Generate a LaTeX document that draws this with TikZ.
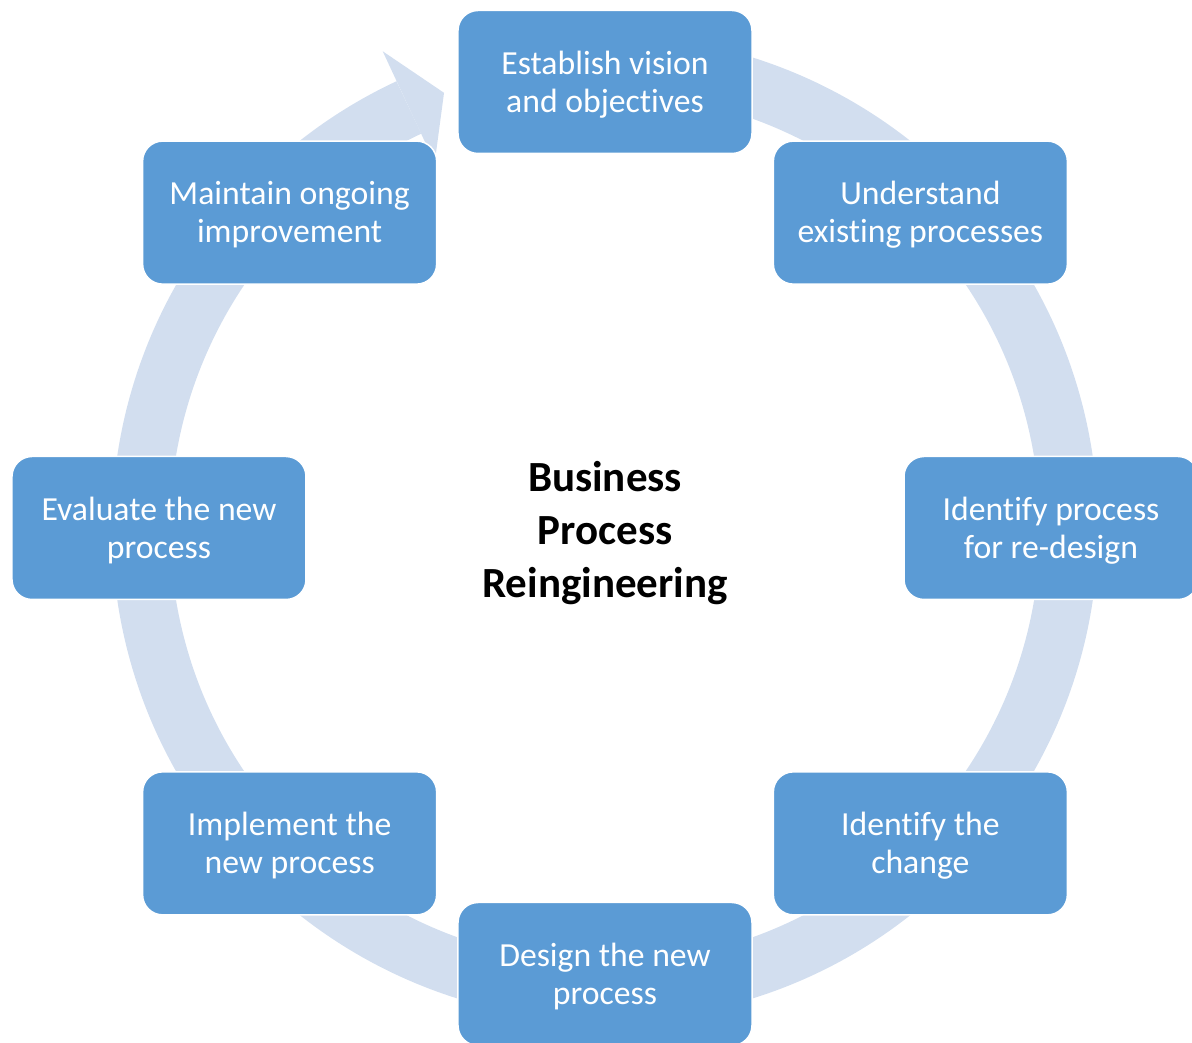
\documentclass[tikz,border=0pt]{standalone}
\usepackage{fontspec}
\setmainfont{Carlito}[Ligatures=CommonOff]
\usepackage{tikz}
\usetikzlibrary{positioning}
\definecolor{boxblue}{RGB}{91,155,213}
\definecolor{ringblue}{RGB}{210,222,239}
\newcommand{\boxstrut}{\rule{0pt}{28pt}}

\begin{document}
\begin{tikzpicture}[x=1pt, y=1pt,
    stepbox/.style={draw=white, line width=1.5pt, fill=boxblue, rounded corners=20pt,
      minimum width=294pt, minimum height=143pt, inner sep=0pt, align=center,
      text=white, font=\fontsize{33.7}{38}\selectfont}]
  \useasboundingbox (-605,-515) rectangle (587,528);

  % Cycle arrow
  \draw[ringblue, line width=58pt] (100:464) arc[start angle=100, end angle=-245, radius=464];
  \fill[ringblue] (115:403) -- (115:526) -- (110.3:464) -- cycle;

  % Step nodes
  \node[stepbox] (vision) at (90:446) {\boxstrut Establish vision\\and objectives};
  \node[stepbox] (understand) at (45:446) {\boxstrut Understand\\existing processes};
  \node[stepbox] (identify) at (0:446) {\boxstrut Identify process\\for re-design};
  \node[stepbox] (change) at (-45:446) {\boxstrut Identify the\\change};
  \node[stepbox] (design) at (-90:446) {\boxstrut Design the new\\process};
  \node[stepbox] (implement) at (-135:446) {\boxstrut Implement the\\new process};
  \node[stepbox] (evaluate) at (180:446) {\boxstrut Evaluate the new\\process};
  \node[stepbox] (maintain) at (135:446) {\boxstrut Maintain ongoing\\improvement};

  % Center label
  \node[align=center, font=\fontsize{43}{53}\selectfont\bfseries] (title) at (0,-5) {Business\\Process\\Reingineering};
\end{tikzpicture}
\end{document}
